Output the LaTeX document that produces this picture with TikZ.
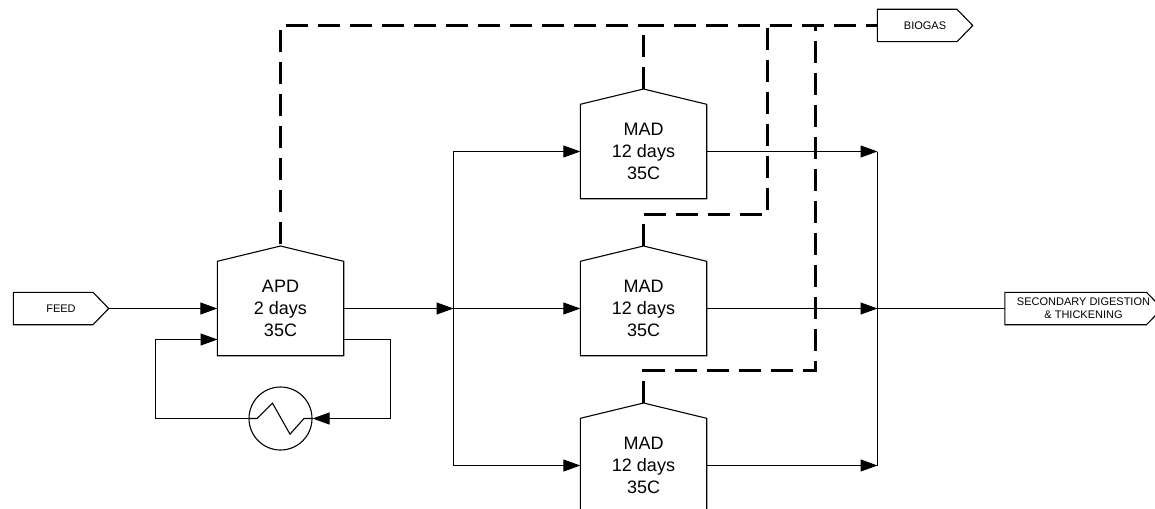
\documentclass[tikz,border=0pt]{standalone}
\usepackage{fontspec}
\setmainfont{Liberation Sans}
\usetikzlibrary{arrows.meta,calc}
\tikzset{
  outline/.style={draw=black,line width=1.1pt,line join=miter},
  house/.style={minimum width=126pt,minimum height=94pt,inner sep=0pt,align=center,
    font=\fontsize{18}{22}\selectfont},
  tag/.style={minimum height=32pt,inner sep=0pt,align=center,
    font=\fontsize{11}{12.7}\selectfont},
  flow/.style={draw=black,line width=1.1pt},
  flowarrow/.style={flow,-{Triangle[length=17pt,width=12pt]}},
  gasline/.style={draw=black,line width=3pt,dash pattern=on 22.3pt off 9.7pt},
}
\begin{document}
\begin{tikzpicture}[x=1pt,y=-1pt]
\useasboundingbox (0,0) rectangle (1155,508);
\fill[white] (0,0) rectangle (1155,508);

% process vessels
\node[house] (apd) at (280.5,308.5) {APD\\2 days\\35C};
\node[house] (mada) at (643.5,151.5) {MAD\\12 days\\35C};
\node[house] (madb) at (643.5,308.5) {MAD\\12 days\\35C};
\node[house] (madc) at (643.5,465.5) {MAD\\12 days\\35C};
\foreach \n in {apd,mada,madb,madc}{
  \coordinate (\n top) at ($(\n.north)+(0,-15.3)$);
  \draw[outline] (\n.north west) -- (\n top) -- (\n.north east)
    -- (\n.south east) -- (\n.south west) -- cycle;
}

% stream tags
\node[tag,minimum width=95pt] (feed) at (61,308.5) {FEED};
\node[tag,minimum width=95pt] (biogas) at (925,25.5) {BIOGAS};
\node[tag,minimum width=157pt] (sec) at (1083.5,308.5) {SECONDARY DIGESTION\\\& THICKENING};
\foreach \n in {feed,biogas,sec}{
  \draw[outline] (\n.north west) -- ($(\n.north east)+(-15.7,0)$) -- (\n.east)
    -- ($(\n.south east)+(-15.7,0)$) -- (\n.south west) -- cycle;
}

% heat exchanger
\node[circle,draw=black,line width=1.1pt,minimum size=63pt,inner sep=0pt] (hx) at (280.5,418.5) {};
\draw[flow] (hx.west) -- ($(hx.center)+(-23.5,0)$) -- ($(hx.center)+(-8,-15.3)$)
  -- ($(hx.center)+(9.5,15.7)$) -- ($(hx.center)+(23.5,0)$) -- (hx.east);

% junctions
\coordinate (split) at (453.5,308.5);
\coordinate (merge) at (877.5,308.5);
\coordinate (mergetop) at (merge |- mada.east);
\coordinate (mergebot) at (merge |- madc.east);
\coordinate (loopin) at (217.5,339.5);
\coordinate (loopout) at (343.5,339.5);
\coordinate (loopleft) at (155.5,339.5);
\coordinate (loopright) at (390.5,339.5);

% sludge connectors
\draw[flowarrow] (feed.east) -- (apd.west);
\draw[flowarrow] (apd.east) -- (split);
\draw[flowarrow] (split) -- (madb.west);
\draw[flowarrow] (split) |- (mada.west);
\draw[flowarrow] (split) |- (madc.west);
\draw[flowarrow] (mada.east) -- (mergetop);
\draw[flowarrow] (madb.east) -- (merge);
\draw[flowarrow] (madc.east) -- (mergebot);
\draw[flow] (mergetop) -- (mergebot);
\draw[flow] (merge) -- (sec.west);
\draw[flowarrow] (loopout) -- (loopright) |- (hx.east);
\draw[flowarrow] (hx.west) -| (loopleft) -- (loopin);

% biogas connectors
\coordinate (gasmain) at (apdtop |- biogas.west);
\coordinate (gastee) at (madatop |- biogas.west);
\coordinate (gasb) at (767.5,214.5);
\coordinate (gasc) at (815.5,370.5);
\draw[gasline,dash phase=30.3pt] (apdtop) -- (gasmain) -- (gastee);
\draw[gasline,dash phase=2pt] (gastee) -- (biogas.west);
\draw[gasline] (madatop) -- (gastee);
\draw[gasline] (madbtop) -- (madbtop |- gasb) -- (gasb) -- (gasb |- biogas.west);
\draw[gasline] (madctop) -- (madctop |- gasc) -- (gasc) -- (gasc |- biogas.west);
\end{tikzpicture}
\end{document}
